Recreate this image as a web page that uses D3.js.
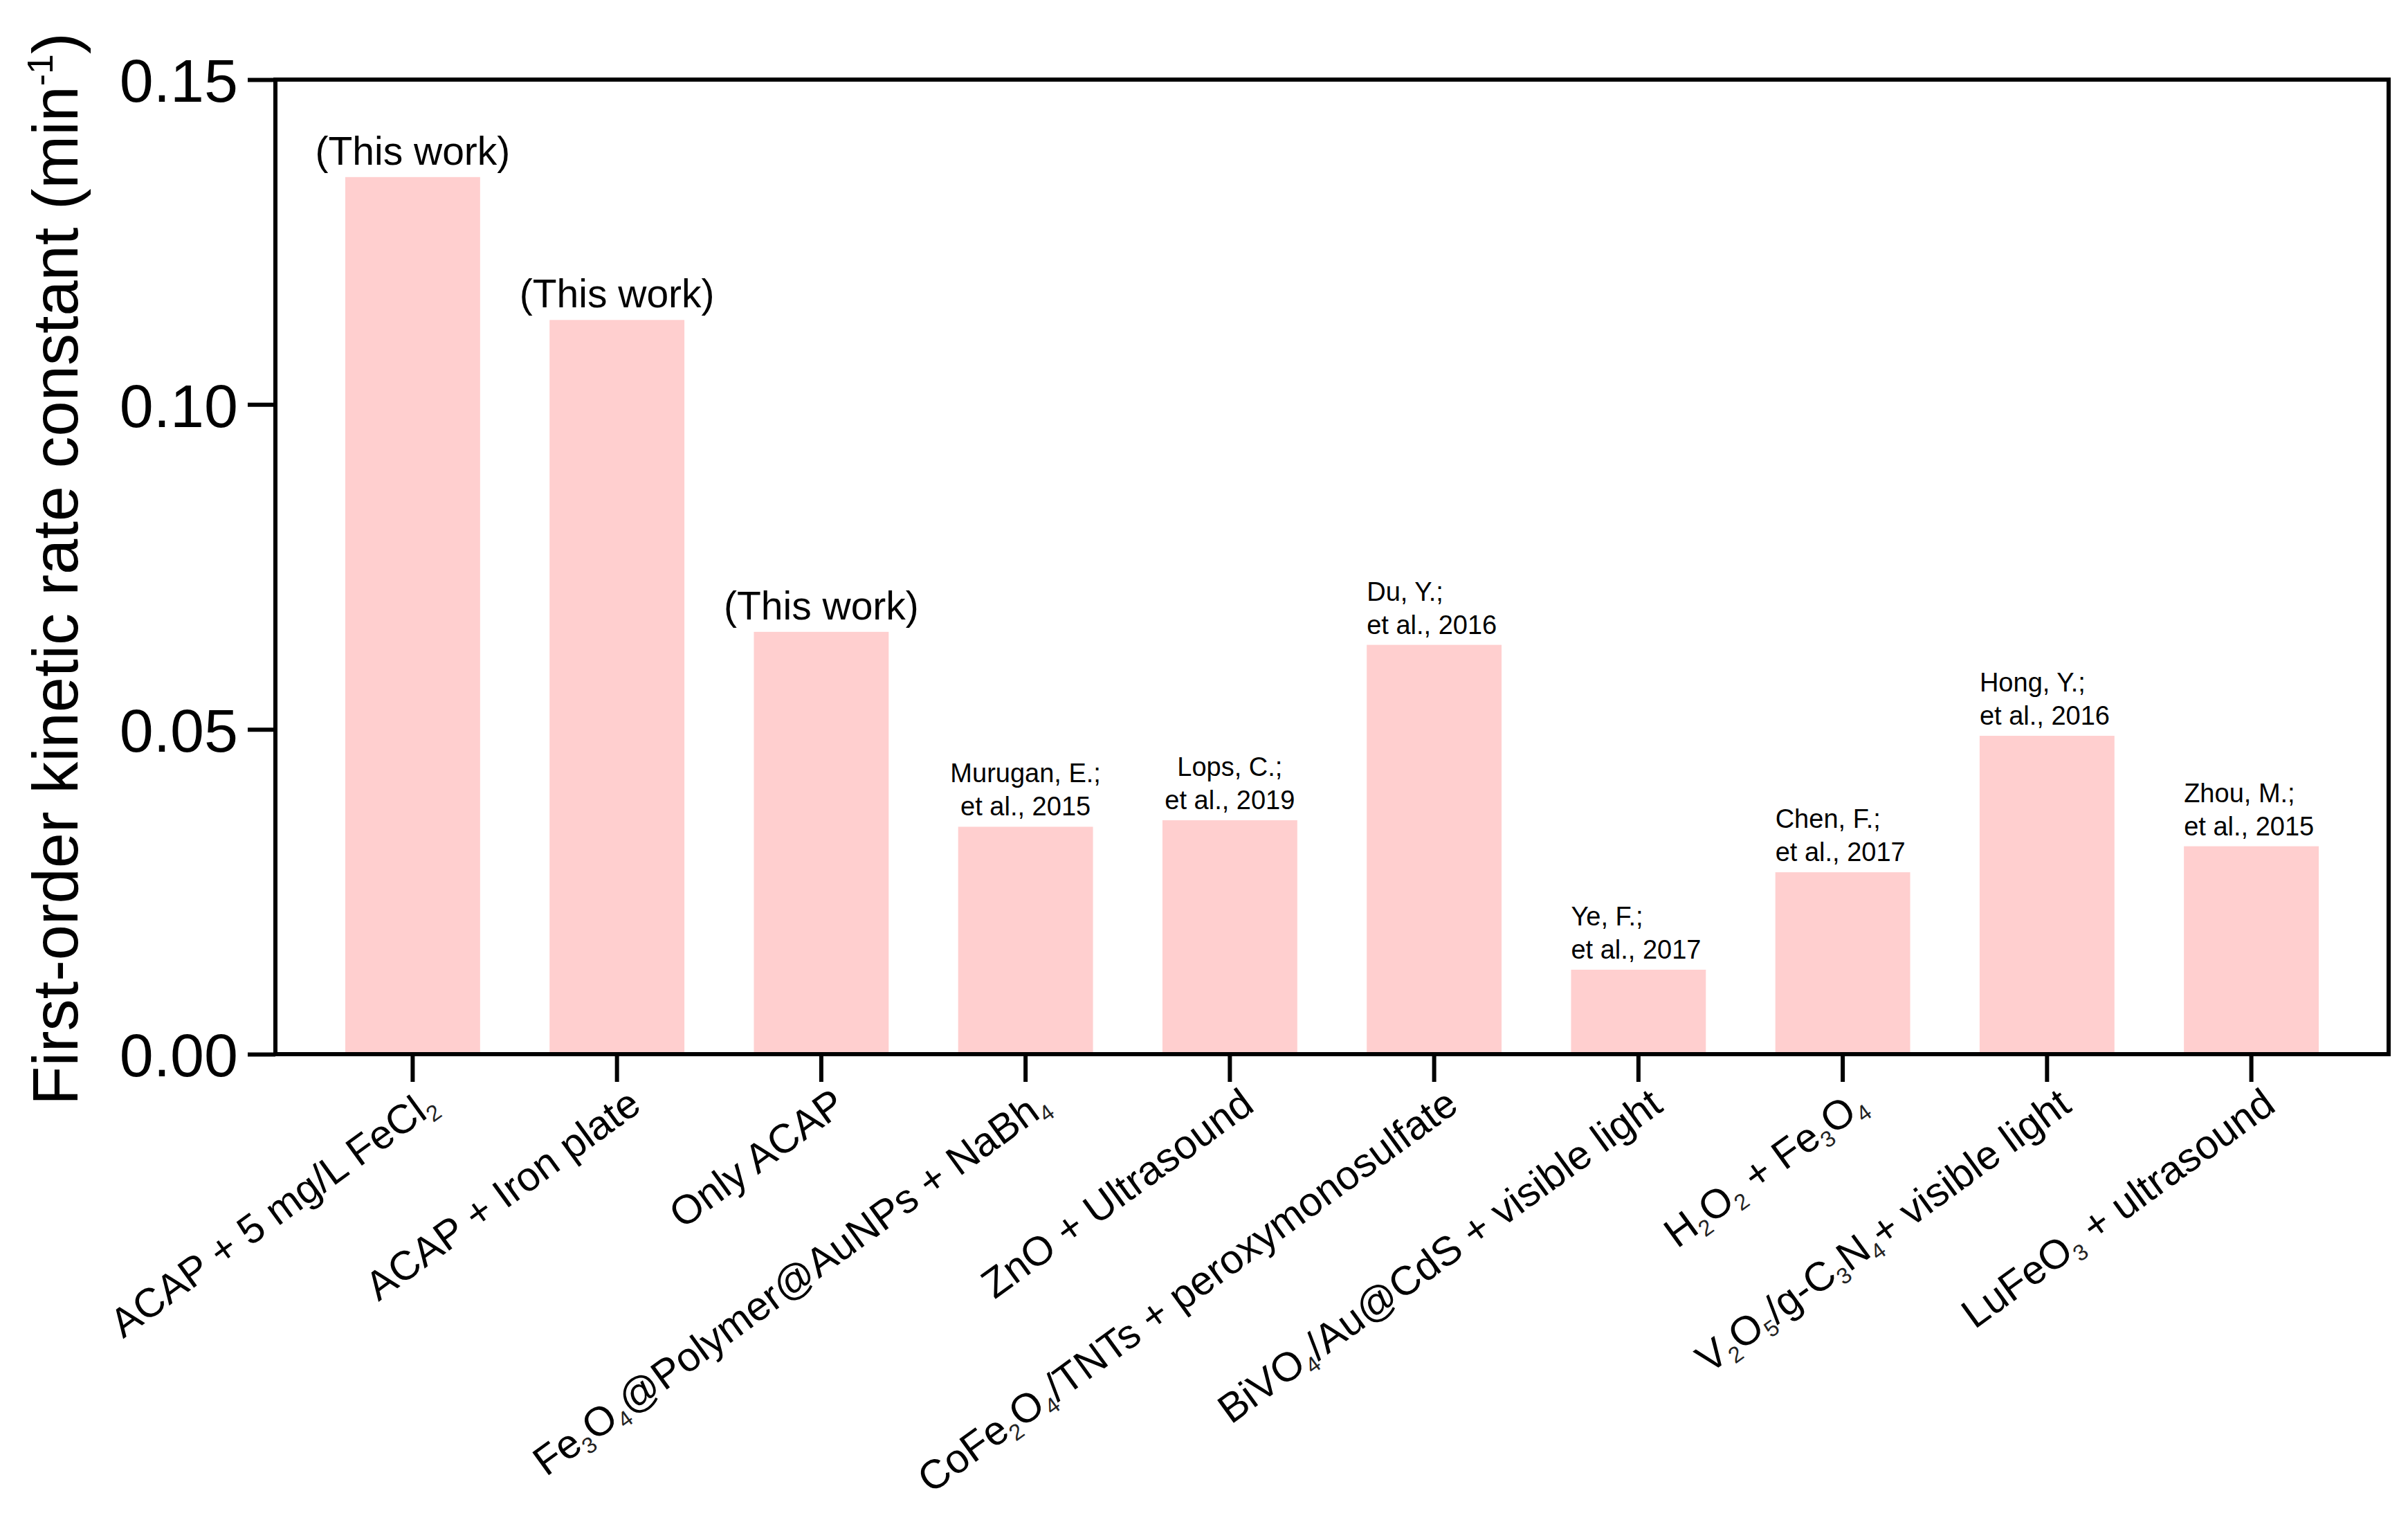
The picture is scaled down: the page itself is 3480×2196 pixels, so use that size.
<!DOCTYPE html>
<html><head><meta charset="utf-8">
<script src="https://cdn.jsdelivr.net/npm/d3@7"></script>
<style>
body{margin:0;background:#fff}
svg{display:block}
text{font-family:"Liberation Sans",Arial,Helvetica,sans-serif;fill:#000}
</style>
</head><body>
<svg id="chart" width="3480" height="2196"></svg>
<script>
// ---- data ----
const categories = [
  "ACAP + 5 mg/L FeCl_2",
  "ACAP + Iron plate",
  "Only ACAP",
  "Fe_3O_4@Polymer@AuNPs + NaBh_4",
  "ZnO + Ultrasound",
  "CoFe_2O_4/TNTs + peroxymonosulfate",
  "BiVO_4/Au@CdS + visible light",
  "H_2O_2 + Fe_3O_4",
  "V_2O_5/g-C_3N_4+ visible light",
  "LuFeO_3 + ultrasound"
];
const rateConstants = [0.135, 0.113, 0.065, 0.035, 0.036, 0.063, 0.013, 0.028, 0.049, 0.032];
const noteLine1 = ["(This work)", "(This work)", "(This work)", "Murugan, E.;", "Lops, C.;", "Du, Y.;", "Ye, F.;", "Chen, F.;", "Hong, Y.;", "Zhou, M.;"];
const noteLine2 = ["", "", "", "et al., 2015", "et al., 2019", "et al., 2016", "et al., 2017", "et al., 2017", "et al., 2016", "et al., 2015"];
const yTickValues = [0, 0.05, 0.10, 0.15];
const yTickLabels = ["0.00", "0.05", "0.10", "0.15"];
const yTitle = "First-order kinetic rate constant (min";
const yTitleSup = "-1";

// ---- layout ----
const svg = d3.select("#chart");
const L = 398, R = 3452, T = 115, B = 1523;
const AXW = 6;
const barColor = "#FFCFCF";

const x = d3.scaleBand().domain(d3.range(categories.length)).range([L, R])
  .paddingInner(0.34).paddingOuter(0.342);
const y = d3.scaleLinear().domain([0, 0.15]).range([B, T]);

// bars
svg.append("g").selectAll("rect").data(rateConstants).join("rect")
  .attr("x", (d, i) => x(i))
  .attr("y", d => y(d))
  .attr("width", x.bandwidth())
  .attr("height", d => B - y(d))
  .attr("fill", barColor);

// frame top & right
svg.append("line").attr("x1", L - AXW/2).attr("x2", R + AXW/2).attr("y1", T).attr("y2", T)
  .attr("stroke", "#000").attr("stroke-width", AXW);
svg.append("line").attr("x1", R).attr("x2", R).attr("y1", T).attr("y2", B)
  .attr("stroke", "#000").attr("stroke-width", AXW);

// y axis
const yAxis = svg.append("g").attr("transform", `translate(${L},0)`)
  .call(d3.axisLeft(y).tickValues(yTickValues).tickSize(40).tickSizeOuter(0).tickPadding(14)
    .tickFormat((d, i) => yTickLabels[i]));
yAxis.select(".domain").attr("stroke-width", AXW).attr("d", `M0,${T - AXW/2}V${B + AXW/2}`);
yAxis.selectAll(".tick line").attr("stroke-width", AXW);
yAxis.selectAll(".tick text").attr("font-size", 88).attr("dy", "0.36em")
  .style("font-family", '"Liberation Sans",Arial,sans-serif');

// x axis
const xAxis = svg.append("g").attr("transform", `translate(0,${B})`)
  .call(d3.axisBottom(x).tickSize(40).tickSizeOuter(0).tickFormat(""));
xAxis.select(".domain").attr("stroke-width", AXW).attr("d", `M${L - AXW/2},0H${R + AXW/2}`);
xAxis.selectAll(".tick line").attr("stroke-width", AXW);

// rich text helper: "_N" -> subscript
function richText(textSel, str, fs) {
  const parts = str.split(/(_\d+)/).filter(s => s.length);
  let shifted = false;
  parts.forEach(p => {
    if (p.startsWith("_")) {
      textSel.append("tspan").attr("font-size", fs * 0.55)
        .attr("dy", shifted ? 0 : fs * 0.18).attr("fill", "#222").text(p.slice(1));
      shifted = true;
    } else {
      textSel.append("tspan").attr("font-size", fs)
        .attr("dy", shifted ? -fs * 0.18 : 0).text(p);
      shifted = false;
    }
  });
}

// x tick labels (rotated)
const xfs = 59;
categories.forEach((c, i) => {
  const cx = x(i) + x.bandwidth() / 2;
  const t = svg.append("text")
    .attr("transform", `translate(${cx + 38},${B + 80}) rotate(-36)`)
    .attr("text-anchor", "end")
    .attr("font-size", xfs);
  richText(t, c, xfs);
});

// annotations above bars
const centered = new Set([0, 1, 2, 3, 4]);
rateConstants.forEach((v, i) => {
  const top = y(v);
  if (noteLine2[i] === "") {
    svg.append("text").attr("x", x(i) + x.bandwidth() / 2).attr("y", top - 18)
      .attr("text-anchor", "middle").attr("font-size", 57).text(noteLine1[i]);
  } else {
    const anchor = centered.has(i) ? "middle" : "start";
    const ax = centered.has(i) ? x(i) + x.bandwidth() / 2 : x(i);
    svg.append("text").attr("x", ax).attr("y", top - 16 - 48)
      .attr("text-anchor", anchor).attr("font-size", 38).attr("fill", "#111").text(noteLine1[i]);
    svg.append("text").attr("x", ax).attr("y", top - 16)
      .attr("text-anchor", anchor).attr("font-size", 38).attr("fill", "#111").text(noteLine2[i]);
  }
});

// y title
const yt = svg.append("text")
  .attr("transform", `translate(112,${822}) rotate(-90)`)
  .attr("text-anchor", "middle").attr("font-size", 92);
yt.append("tspan").text(yTitle);
yt.append("tspan").attr("font-size", 52).attr("dy", -36).text(yTitleSup);
yt.append("tspan").attr("dy", 36).text(")");
</script>
</body></html>
